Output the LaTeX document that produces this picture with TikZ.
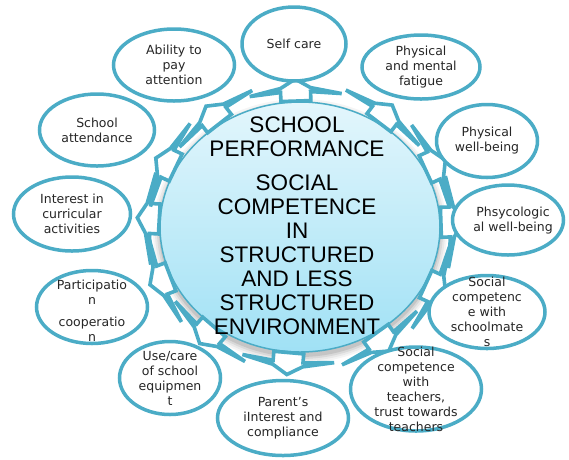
\documentclass[tikz,border=0pt]{standalone}
\usepackage{fontspec}
\setmainfont{Liberation Sans}
\newfontfamily\smallfont{DejaVu Sans}
\usetikzlibrary{shapes.geometric}
\definecolor{teal5}{HTML}{4BACC6}
\definecolor{ctop}{HTML}{E3F6FC}
\definecolor{cbot}{HTML}{A0E1F5}
\definecolor{txtc}{HTML}{262626}
\pgfdeclarelayer{bg}
\pgfdeclarelayer{mid}
\pgfsetlayers{bg,mid,main}
\begin{document}
\begin{tikzpicture}[x=1pt,y=-1pt,
  outer/.style={ellipse, draw=teal5, line width=3.5pt, fill=white, inner sep=0pt},
  lbl/.style={font=\smallfont\fontsize{12.5}{15}\selectfont, align=center, text=txtc, inner sep=0pt},
  ringarrow/.style={draw=teal5, fill=white, line width=3.6pt, line join=miter},
  hub/.style={ellipse, draw=teal5, line width=1.5pt, top color=ctop, bottom color=cbot, inner sep=0pt,
    minimum width=280pt, minimum height=250pt},
  hubtext/.style={font=\fontsize{22.5}{24}\selectfont, align=center, text=black, inner sep=0pt}]
\useasboundingbox (0,0) rectangle (569,459);

\begin{pgfonlayer}{bg}
  \foreach \k/\op in {7/0.04, 5/0.05, 3/0.07, 1/0.09}{
    \fill[black, opacity=\op] (300,231) ellipse ({140+\k} and {125+\k});
  }
  \node[hub] (c) at (300,227) {};
\end{pgfonlayer}

\node[hubtext] (ct) at (297,226) {SCHOOL\\PERFORMANCE\\[10pt]SOCIAL\\COMPETENCE\\IN\\STRUCTURED\\AND LESS\\STRUCTURED\\ENVIRONMENT};

\node[outer, minimum width=104pt, minimum height=74pt] (n1) at (294,44) {};
\node[outer, minimum width=118pt, minimum height=64pt] (n2) at (421,67) {};
\node[outer, minimum width=101pt, minimum height=73pt] (n3) at (487,141) {};
\node[outer, minimum width=111pt, minimum height=70pt] (n4) at (508,220) {};
\node[outer, minimum width=116pt, minimum height=73pt] (n5) at (487,312) {};
\node[outer, minimum width=131pt, minimum height=84pt] (n6) at (416,389) {};
\node[outer, minimum width=131pt, minimum height=75pt] (n7) at (283,418) {};
\node[outer, minimum width=101pt, minimum height=73pt] (n8) at (170,378) {};
\node[outer, minimum width=111pt, minimum height=73pt] (n9) at (92,307) {};
\node[outer, minimum width=117pt, minimum height=74pt] (n10) at (72,214) {};
\node[outer, minimum width=115pt, minimum height=72pt] (n11) at (97,130) {};
\node[outer, minimum width=121pt, minimum height=72pt] (n12) at (174,65) {};

\node[lbl] (t1) at (n1) {Self care};
\node[lbl] (t2) at (n2) {Physical\\and mental\\fatigue};
\node[lbl] (t3) at (n3) {Physical\\well-being};
\node[lbl] (t4) at (513,221) {Phsycologic\\al well-being};
\node[lbl] (t5) at (n5) {Social\\competenc\\e with\\schoolmate\\s};
\node[lbl] (t6) at (n6) {Social\\competence\\with\\teachers,\\trust towards\\teachers};
\node[lbl] (t7) at (n7) {Parent’s\\iInterest and\\compliance};
\node[lbl] (t8) at (n8) {Use/care\\of school\\equipmen\\t};
\node[lbl] (t9) at (92,311) {Participatio\\n\\[7pt]cooperatio\\n};
\node[lbl] (t10) at (n10) {Interest in\\curricular\\activities};
\node[lbl] (t11) at (n11) {School\\attendance};
\node[lbl] (t12) at (n12) {Ability to\\pay\\attention};

\begin{pgfonlayer}{mid}
\foreach \i in {1,...,12}{
  \pgfpointdiff{\pgfpointanchor{c}{center}}{\pgfpointanchor{n\i}{center}}
  \pgfgetlastxy{\dx}{\dy}
  \pgfmathsetmacro\ang{atan2(\dy,\dx)}
  \pgfmathsetmacro\rb{175/sqrt((1.25*cos(\ang))^2+(1.4*sin(\ang))^2)}
  \begin{scope}[shift={(c.center)}, rotate=\ang]
    \draw[ringarrow] ({\rb+1},-15) -- ({\rb+10},-15) -- ({\rb+7},-46) -- ({\rb+14},-15)
      -- ({\rb+23},0) -- ({\rb+14},15) -- ({\rb+7},46) -- ({\rb+10},15) -- ({\rb+1},15) -- cycle;
  \end{scope}
}
\end{pgfonlayer}
\end{tikzpicture}
\end{document}
